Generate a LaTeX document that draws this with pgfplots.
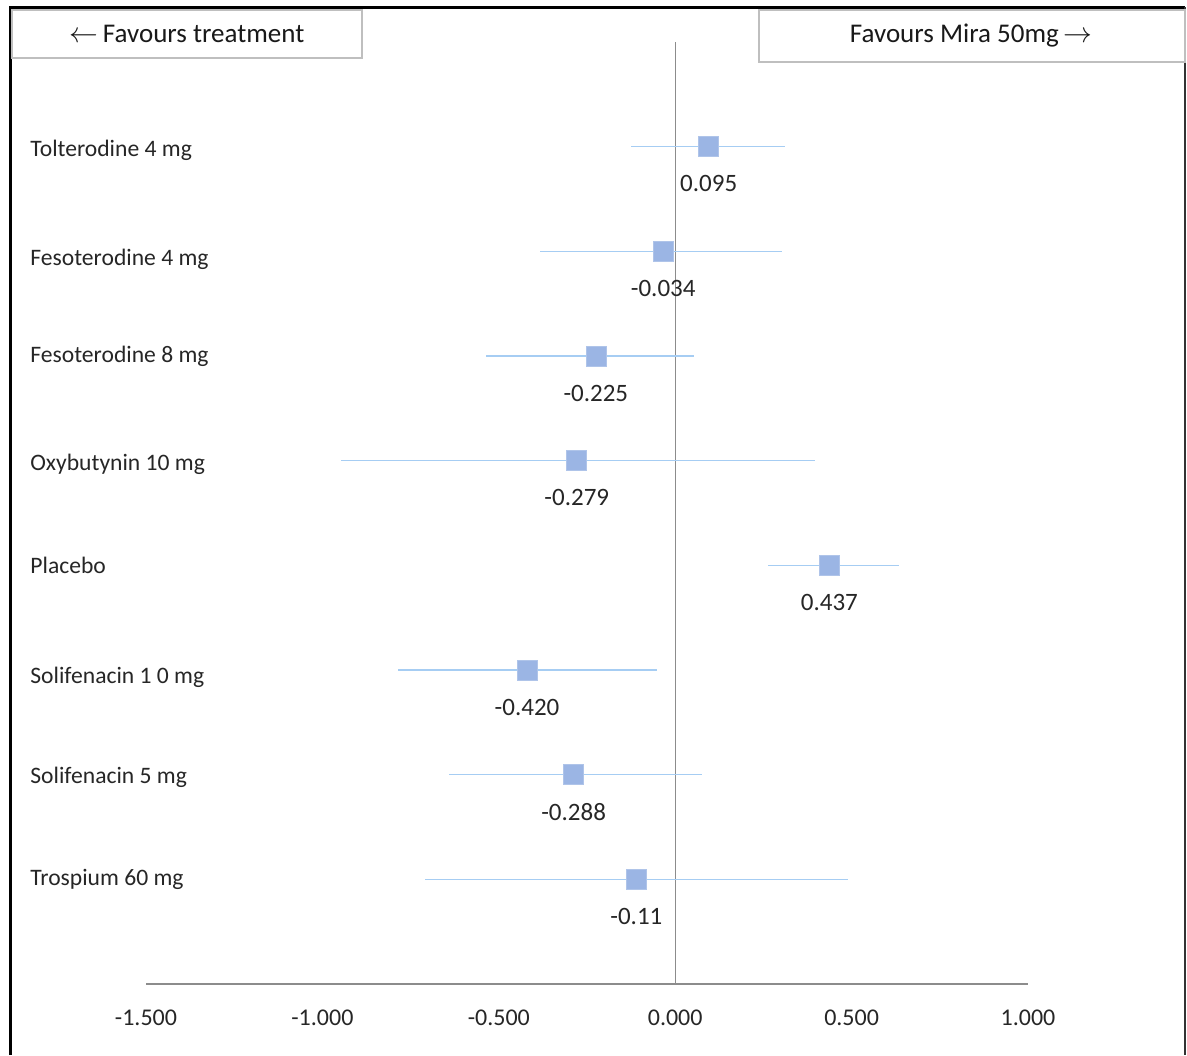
\documentclass[border=0pt]{standalone}
\usepackage{pgfplots}
\pgfplotsset{compat=1.18}
\usepackage{pgfplotstable}
\usepackage{fontspec}
\setmainfont{Carlito}
\definecolor{mk}{HTML}{9BB5E4}
\definecolor{eb}{HTML}{A6CDF3}
\definecolor{ax}{HTML}{8C8C8C}
\definecolor{bx}{HTML}{BFBFBF}
\pgfplotstableread{
x y em ep lab
0.095 1 0.219 0.215 0.095
-0.034 2 0.350 0.338 -0.034
-0.225 3 0.312 0.277 -0.225
-0.279 4 0.669 0.674 -0.279
0.437 5 0.175 0.196 0.437
-0.420 6 0.367 0.367 -0.420
-0.288 7 0.352 0.363 -0.288
-0.110 8 0.598 0.601 -0.11
}\data
\begin{document}
\begin{tikzpicture}
\begin{scope}[x=0.5pt,y=-0.5pt]
\path[use as bounding box] (0,0) rectangle (1187,1055);
\draw[black,line width=1.5pt] (10,1055) -- (10,7) -- (1185,7);
\draw[black!80,line width=0.6pt] (1185,7) -- (1185,1055);
\end{scope}
\begin{axis}[
  at={(73pt,-492pt)}, anchor=south west,
  scale only axis, width=441pt, height=471pt,
  xmin=-1.5, xmax=1.0, ymin=0, ymax=9, y dir=reverse,
  axis x line*=bottom, axis y line=none,
  x axis line style={ax, line width=0.6pt, -},
  xtick={-1.5,-1,-0.5,0,0.5,1},
  major tick length=0pt,
  /pgf/number format/.cd, fixed, fixed zerofill, precision=3, assume math mode=true,
  /pgfplots/.cd,
  xticklabel style={anchor=center, yshift=-17pt, font=\fontsize{12}{14}\selectfont, text=black!85},
  clip=false,
]
\addplot[ax, line width=0.6pt, forget plot] coordinates {(0,0) (0,9)};
\addplot[only marks, mark=square*, mark size=5pt,
  mark options={fill=mk, draw=mk!80!white, line width=0.3pt},
  error bars/.cd, x dir=both, x explicit, error mark=none,
  error bar style={eb, line width=0.7pt},
  /pgfplots/.cd,
  point meta=explicit symbolic,
  nodes near coords={\pgfplotspointmeta},
  nodes near coords style={anchor=center, yshift=-18.5pt, font=\fontsize{12.5}{14}\selectfont, text=black!85},
] table[x=x, y=y, x error minus=em, x error plus=ep, meta=lab] {\data};
\end{axis}
\begin{scope}[x=0.5pt,y=-0.5pt]
\begin{scope}[every node/.style={anchor=west, font=\fontsize{11.8}{13}\selectfont, text=black!85, inner sep=0pt}]
\node at (30,150) {Tolterodine 4 mg};
\node at (30,259) {Fesoterodine 4 mg};
\node at (30,356) {Fesoterodine 8 mg};
\node at (30,464) {Oxybutynin 10 mg};
\node at (30,565) {Placebo};
\node at (30,677) {Solifenacin 1 0 mg};
\node at (30,777) {Solifenacin 5 mg};
\node at (30,879) {Trospium 60 mg};
\end{scope}
\draw[bx, line width=1pt, fill=white] (12,10) rectangle (362,58);
\node[font=\fontsize{13.5}{15}\selectfont, text=black!90] at (187,34) {$\leftarrow$\,Favours treatment};
\draw[bx, line width=1pt, fill=white] (759,10) rectangle (1185,62);
\node[font=\fontsize{13.5}{15}\selectfont, text=black!90] at (971,36) {Favours Mira 50mg\,$\rightarrow$};
\end{scope}
\end{tikzpicture}
\end{document}
